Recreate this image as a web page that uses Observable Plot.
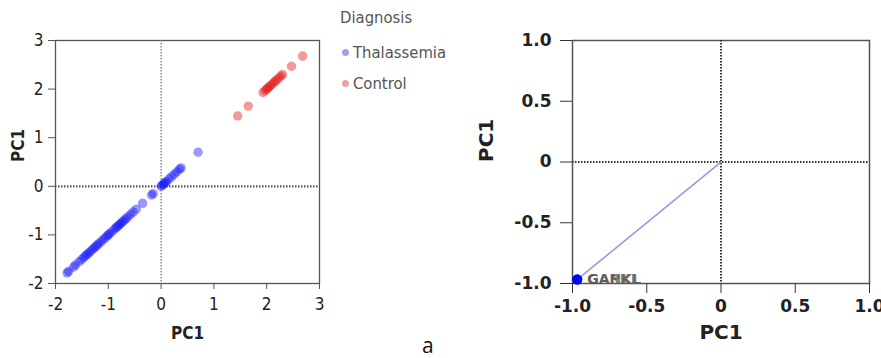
<!DOCTYPE html>
<html>
<head>
<meta charset="utf-8">
<script src="https://cdn.jsdelivr.net/npm/d3@7"></script>
<script src="https://cdn.jsdelivr.net/npm/@observablehq/plot@0.6"></script>
<style>
  html, body { margin: 0; padding: 0; background: #fff; }
  #wrap { position: relative; width: 881px; height: 358px; overflow: hidden; }
  .pane { position: absolute; top: 0; }
  .legend { position: absolute; font-family: "DejaVu Sans Condensed", "Liberation Sans", sans-serif; color: #555; font-size: 16.5px; }
  .legend .item { position: absolute; white-space: nowrap; }
  .legend .sw { display: inline-block; width: 7px; height: 7px; border-radius: 50%; margin-right: 4px; vertical-align: middle; position: relative; top: -1px; }
  #tag { position: absolute; left: 422px; top: 331px; font-family: "Open Sans", "Liberation Sans", sans-serif; font-size: 21px; color: #111; }
</style>
</head>
<body>
<div id="wrap">
  <div id="left" class="pane" style="left:0px"></div>
  <div id="right" class="pane" style="left:470px"></div>
  <div class="legend" id="legend" style="left:340px; top:0px;"></div>
  <div id="tag">a</div>
</div>
<script>
// ---- data (left: scores, PC1 vs PC1) ----
const thalassemiaPC1 = [-1.78, -1.75, -1.66, -1.62, -1.55, -1.5, -1.46, -1.43, -1.4, -1.37, -1.34, -1.3, -1.27, -1.24, -1.21, -1.18, -1.14, -1.1, -1.06, -1.02, -1.0, -0.97, -0.93, -0.88, -0.85, -0.83, -0.8, -0.78, -0.76, -0.73, -0.7, -0.67, -0.63, -0.58, -0.53, -0.47, -0.35, -0.18, -0.15, 0.0, 0.02, 0.04, 0.06, 0.08, 0.1, 0.15, 0.2, 0.25, 0.3, 0.35, 0.38, 0.7];
const controlPC1 = [1.45, 1.65, 1.93, 1.97, 2.0, 2.02, 2.04, 2.07, 2.1, 2.13, 2.16, 2.19, 2.23, 2.27, 2.3, 2.47, 2.68];
const groups = ["Thalassemia", "Control"];
const groupColors = ["#1a1aff", "#e61a1a"];
const legendColors = ["#9ea2ea", "#e8a3a3"];
const leftTicks = [-2, -1, 0, 1, 2, 3];
const leftTickLabels = ["-2", "-1", "0", "1", "2", "3"];

// ---- data (right: loadings) ----
const loadingNames = ["GANKL", "GAPKL"];
const loadingPC1 = [-0.968, -0.968];
const rightTicks = [-1, -0.5, 0, 0.5, 1];
const rightTickLabels = ["-1.0", "-0.5", "0", "0.5", "1.0"];

const scores = [
  ...thalassemiaPC1.map(v => ({pc1: v, group: groups[0]})),
  ...controlPC1.map(v => ({pc1: v, group: groups[1]}))
];
const loadings = loadingNames.map((n, i) => ({name: n, pc1: loadingPC1[i]}));

const fmtLeft = d => leftTickLabels[leftTicks.indexOf(d)];
const fmtRight = d => rightTickLabels[rightTicks.indexOf(d)];

const condensed = "DejaVu Sans Condensed";
const wide = "DejaVu Sans";

const left = Plot.plot({
  width: 340, height: 358,
  marginLeft: 55, marginRight: 21, marginTop: 40, marginBottom: 75,
  style: {fontFamily: condensed, fontSize: "17px", color: "#222", background: "transparent"},
  x: {domain: [-2, 3]},
  y: {domain: [-2, 3]},
  color: {domain: groups, range: groupColors},
  marks: [
    Plot.frame({stroke: "#555", strokeWidth: 1.3}),
    Plot.ruleX([0], {stroke: "#777", strokeWidth: 1.3, strokeDasharray: "1.5,1.5"}),
    Plot.ruleY([0], {stroke: "#555", strokeWidth: 2.2, strokeDasharray: "1.5,1.5"}),
    Plot.dot(scores, {x: "pc1", y: "pc1", fill: "group", fillOpacity: 0.45, r: 4.7, stroke: null}),
    Plot.axisX({ticks: leftTicks, tickFormat: fmtLeft, tickSize: 6, tickPadding: 8, label: null, stroke: "#555", fontFamily: condensed, fontSize: 17}),
    Plot.axisY({ticks: leftTicks, tickFormat: fmtLeft, tickSize: 7, tickPadding: 5, label: null, stroke: "#555", fontFamily: condensed, fontSize: 17}),
    Plot.text(["PC1"], {frameAnchor: "bottom", dy: 55, fontFamily: condensed, fontSize: 17, fontWeight: "bold", fill: "#222"}),
    Plot.text(["PC1"], {frameAnchor: "left", dx: -37, rotate: -90, fontFamily: condensed, fontSize: 17, fontWeight: "bold", fill: "#222"})
  ]
});
document.getElementById("left").appendChild(left);

const right = Plot.plot({
  width: 411, height: 358,
  marginLeft: 102, marginRight: 12, marginTop: 40, marginBottom: 75,
  style: {fontFamily: wide, fontSize: "17px", fontWeight: "bold", color: "#222", background: "transparent"},
  x: {domain: [-1, 1]},
  y: {domain: [-1, 1]},
  marks: [
    Plot.frame({stroke: "#555", strokeWidth: 1.5}),
    Plot.ruleX([0], {stroke: "#333", strokeWidth: 2, strokeDasharray: "1.5,1.5"}),
    Plot.ruleY([0], {stroke: "#333", strokeWidth: 2, strokeDasharray: "1.5,1.5"}),
    Plot.link(loadings, {x1: 0, y1: 0, x2: "pc1", y2: "pc1", stroke: "#9b9be6", strokeWidth: 1.3}),
    Plot.dot(loadings, {x: "pc1", y: "pc1", r: 5, fill: "#0000ff", stroke: null}),
    Plot.text(loadings, {x: "pc1", y: "pc1", text: "name", textAnchor: "start", dx: 10, fontFamily: wide, fontSize: 14, fontWeight: "bold", fill: "#555", fillOpacity: 0.75}),
    Plot.axisX({ticks: rightTicks, tickFormat: fmtRight, tickSize: 10, tickPadding: 6, label: null, stroke: "#333", fontFamily: wide, fontSize: 17, fontWeight: "bold"}),
    Plot.axisY({ticks: rightTicks, tickFormat: fmtRight, tickSize: 12, tickPadding: 9, label: null, stroke: "#333", fontFamily: wide, fontSize: 17, fontWeight: "bold"}),
    Plot.text(["PC1"], {frameAnchor: "bottom", dy: 55, fontFamily: wide, fontSize: 20, fontWeight: "bold", fill: "#222"}),
    Plot.text(["PC1"], {frameAnchor: "left", dx: -86, rotate: -90, fontFamily: wide, fontSize: 20, fontWeight: "bold", fill: "#222"})
  ]
});
document.getElementById("right").appendChild(right);

// legend
const lg = document.getElementById("legend");
const title = document.createElement("div");
title.className = "item";
title.style.left = "0px"; title.style.top = "8px";
title.textContent = "Diagnosis";
lg.appendChild(title);
groups.forEach((g, i) => {
  const it = document.createElement("div");
  it.className = "item";
  it.style.left = "2px"; it.style.top = (43 + i * 31) + "px";
  const sw = document.createElement("span");
  sw.className = "sw"; sw.style.background = legendColors[i];
  it.appendChild(sw);
  it.appendChild(document.createTextNode(g));
  lg.appendChild(it);
});
</script>
</body>
</html>
